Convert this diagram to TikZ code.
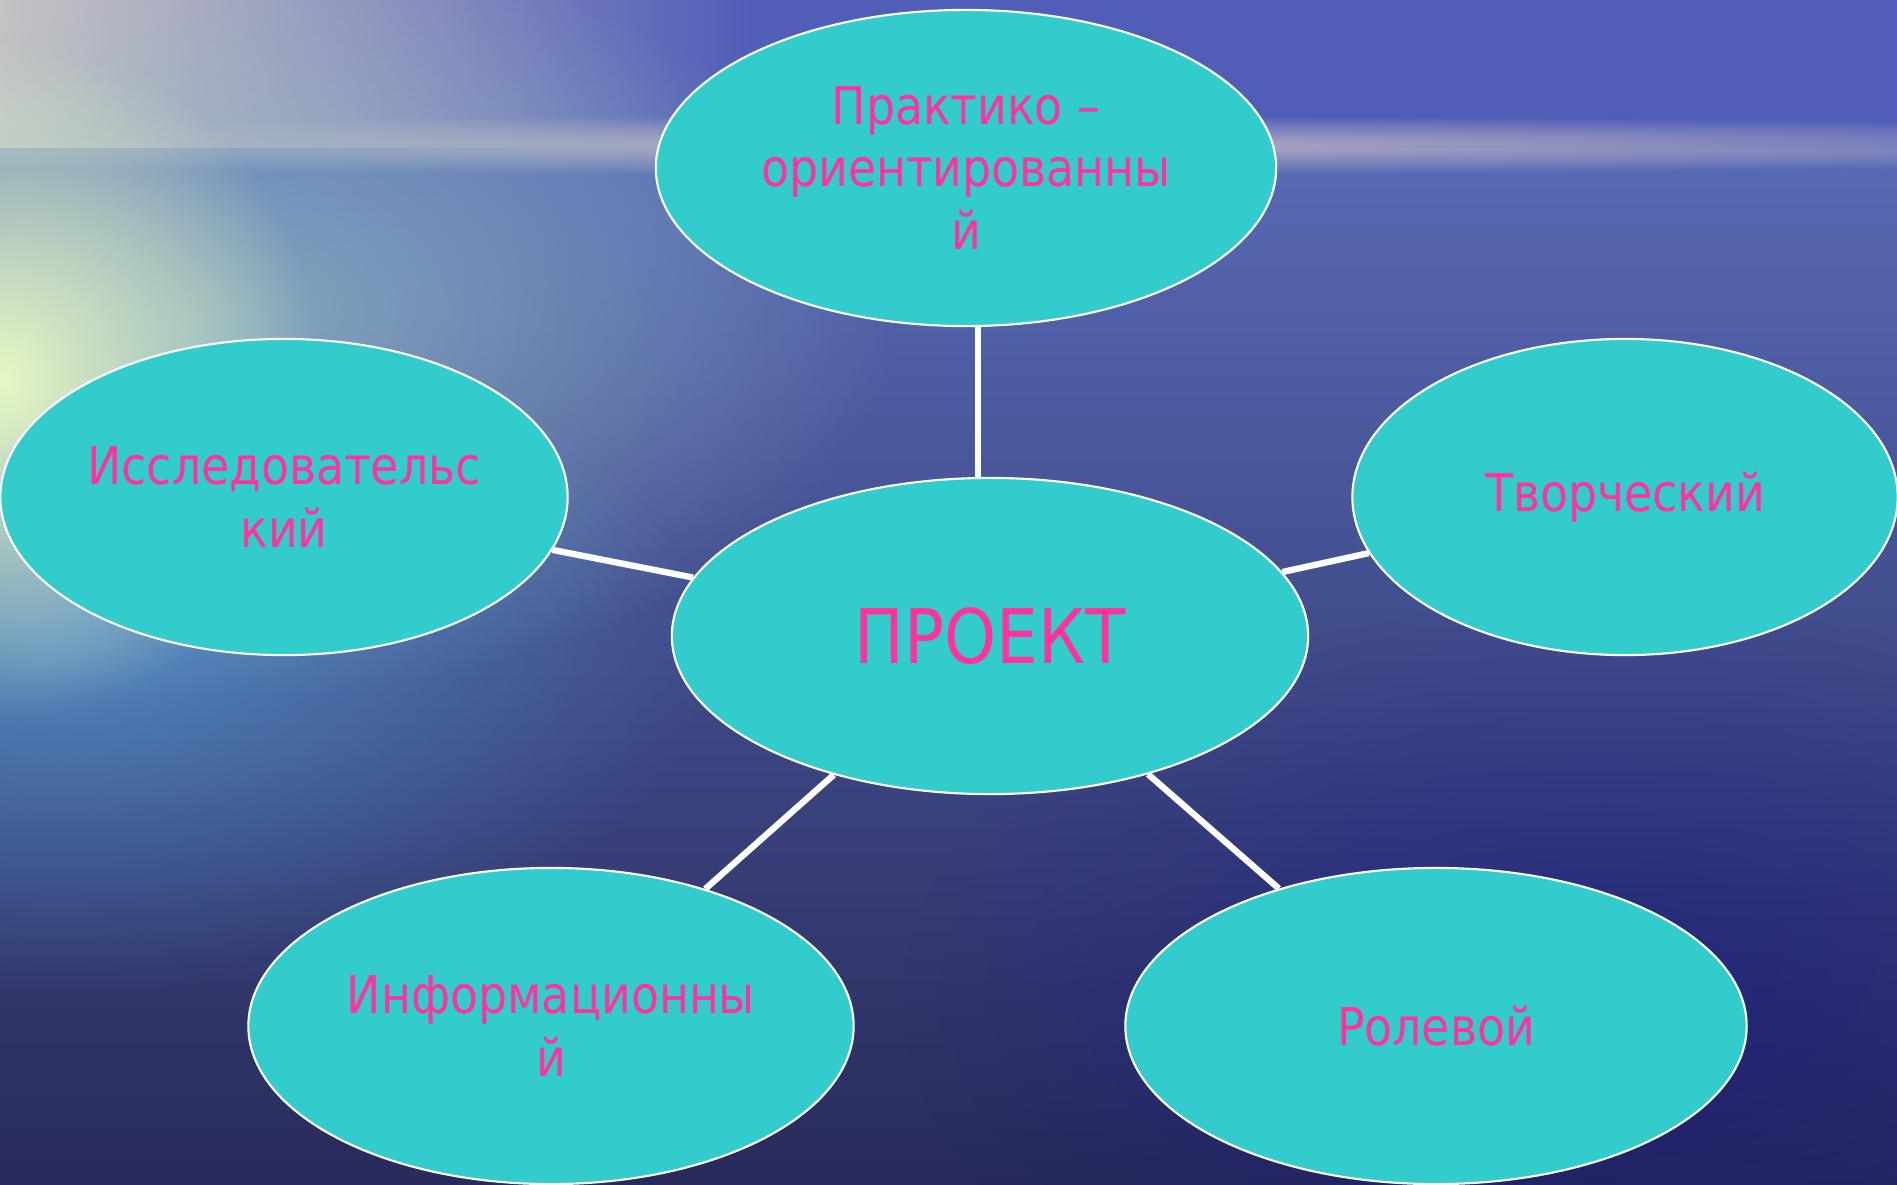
\documentclass[tikz,border=0pt]{standalone}
\usepackage{fontspec}
\setmainfont{DejaVu Sans}[FakeStretch=0.88]
\usetikzlibrary{shapes.geometric,fadings}
\definecolor{oval}{RGB}{51,204,204}
\definecolor{rosa}{RGB}{255,51,153}
\definecolor{skyL}{RGB}{204,196,196}
\definecolor{skyR}{RGB}{80,94,184}
\definecolor{seaT}{RGB}{88,106,182}
\definecolor{seaB}{RGB}{40,42,90}
\definecolor{haze}{RGB}{184,176,196}
\definecolor{shine}{RGB}{232,248,196}
\definecolor{teal}{RGB}{150,190,196}
\tikzfading[name=glow, inner color=transparent!0, outer color=transparent!100]
\begin{document}
\begin{tikzpicture}[x=0.01cm,y=-0.01cm,
  vid/.style={ellipse,draw=white,line width=0.6pt,fill=oval,text=rosa,inner sep=0pt,
    align=center,minimum height=3.16cm,font=\fontsize{14.8}{17.9}\selectfont},
  link/.style={draw=white,line width=1.8pt}]
\useasboundingbox (0,0) rectangle (1897,1184);
% background: sky and sea
\shade[left color=skyL,right color=skyR] (0,0) rectangle (750,148);
\fill[skyR] (750,0) rectangle (1897,148);
\shade[top color=seaT,bottom color=seaB] (0,148) rectangle (1897,1184);
\fill[haze,path fading=glow] (950,145) ellipse [x radius=1600, y radius=30];
\fill[teal,opacity=.8,path fading=glow] (200,320) ellipse [x radius=700, y radius=380];
\fill[blue!30!cyan!60!white,opacity=.45,path fading=glow] (60,650) ellipse [x radius=650, y radius=350];
\fill[shine,path fading=glow] (0,380) ellipse [x radius=320, y radius=340];
\fill[blue!60!black,opacity=.3,path fading=glow] (1600,1000) ellipse [x radius=700, y radius=400];
% ovals
\node[vid,minimum width=6.36cm,font=\fontsize{21.4}{25}\selectfont] (proj) at (990,636) {ПРОЕКТ};
\node[vid,minimum width=6.20cm] (prakt) at (966,168) {Практико –\\ориентированны\\й};
\node[vid,minimum width=5.67cm] (issl) at (284,497) {Исследовательс\\кий};
\node[vid,minimum width=5.45cm] (tvor) at (1625,497) {Творческий};
\node[vid,minimum width=6.05cm] (info) at (551,1026) {Информационны\\й};
\node[vid,minimum width=6.21cm] (rol) at (1436,1026) {Ролевой};
% links
\coordinate (axis) at (978,0);
\draw[link] (prakt.south -| axis) -- (proj.north -| axis);
\draw[link] (proj) -- (issl);
\draw[link] (proj) -- (tvor);
\draw[link] (proj) -- (info);
\draw[link] (proj) -- (rol);
\end{tikzpicture}
\end{document}
